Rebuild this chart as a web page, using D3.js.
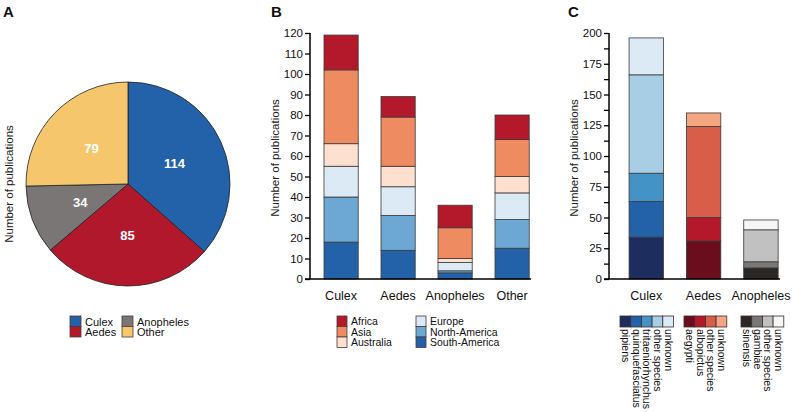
<!DOCTYPE html>
<html>
<head>
<meta charset="utf-8">
<script src="https://cdn.jsdelivr.net/npm/d3@7/dist/d3.min.js"></script>
<style>
  html, body { margin: 0; padding: 0; background: #fff; }
  svg { display: block; font-family: "Liberation Sans", Arial, sans-serif; }
</style>
</head>
<body>
<svg id="chart" width="793" height="413"></svg>
<script>
// ---------- Data ----------
// Panel A
const genera = ["Culex", "Aedes", "Anopheles", "Other"];
const genusCounts = [114, 85, 34, 79];
const genusColors = ["#2361a8", "#b2182b", "#7a7675", "#f5c66b"];

// Panel B
const regionCategories = ["Culex", "Aedes", "Anopheles", "Other"];
const regions = ["South-America", "North-America", "Europe", "Australia", "Asia", "Africa"];
const southAmerica = [18, 14, 3, 15];
const northAmerica = [22, 17, 1, 14];
const europe = [15, 14, 4, 13];
const australia = [11, 10, 2, 8];
const asia = [36, 24, 15, 18];
const africa = [17, 10, 11, 12];
const regionColors = ["#2361a8", "#6da8d4", "#dceaf5", "#fde0d0", "#ee8b61", "#b3192b"];
const bTicks = [0, 10, 20, 30, 40, 50, 60, 70, 80, 90, 100, 110, 120];

// Panel C
const speciesGenera = ["Culex", "Aedes", "Anopheles"];
const culexSpecies = ["pipiens", "quinquefasciatus", "tritaeniorhynchus", "other species", "unknown"];
const culexValues = [34, 29, 23, 80, 30];
const culexColors = ["#1c2d5e", "#2361a8", "#4393c6", "#a7cee5", "#dceaf6"];
const aedesSpecies = ["aegypti", "albopictus", "other species", "unknown"];
const aedesValues = [31, 19, 74, 11];
const aedesColors = ["#6a0e1e", "#b3192b", "#d85e4a", "#f4a683"];
const anophelesSpecies = ["sinensis", "gambiae", "other species", "unknown"];
const anophelesValues = [9, 5, 26, 8];
const anophelesColors = ["#2b2724", "#7a7877", "#c1c1c1", "#f6f6f6"];
const cTicks = [0, 12.5, 25, 37.5, 50, 62.5, 75, 87.5, 100, 112.5, 125, 137.5, 150, 162.5, 175, 187.5, 200];

const yTitle = "Number of publications";

// ---------- Drawing ----------
const svg = d3.select("#chart");
const FONT = "Liberation Sans, Arial, sans-serif";
const segStroke = "#3a3a3a";

function panelLetter(x, t) {
  svg.append("text").attr("x", x).attr("y", 17).attr("font-size", 15)
    .attr("font-weight", "bold").attr("fill", "#111").text(t);
}
panelLetter(3, "A");
panelLetter(271, "B");
panelLetter(568, "C");

// ===== Panel A: pie =====
(function () {
  const cx = 128, cy = 184, r = 102;
  const g = svg.append("g").attr("transform", `translate(${cx},${cy})`);
  const pie = d3.pie().sort(null).value(d => d.v);
  const data = genera.map((n, i) => ({ n, v: genusCounts[i], c: genusColors[i] }));
  const arcs = pie(data);
  const arc = d3.arc().innerRadius(0).outerRadius(r);
  g.selectAll("path").data(arcs).join("path")
    .attr("d", arc).attr("fill", d => d.data.c)
    .attr("stroke", "#222").attr("stroke-width", 0.8);
  g.selectAll("text").data(arcs).join("text")
    .attr("transform", d => `translate(${arc.centroid(d)})`)
    .attr("text-anchor", "middle").attr("dy", "0.36em")
    .attr("font-size", 13).attr("font-weight", "bold").attr("fill", "#fff")
    .text(d => d.data.v);

  svg.append("text").attr("transform", `translate(13,${cy}) rotate(-90)`)
    .attr("text-anchor", "middle").attr("font-size", 11.5).attr("fill", "#222")
    .text(yTitle);

  // legend
  const lg = svg.append("g");
  const pos = [[70, 316], [70, 326.5], [122, 316], [122, 326.5]];
  data.forEach((d, i) => {
    const [x, y] = pos[i];
    lg.append("rect").attr("x", x).attr("y", y).attr("width", 11).attr("height", 10.5)
      .attr("fill", d.c).attr("stroke", "#4a3b3b").attr("stroke-width", 0.8);
    lg.append("text").attr("x", x + 15).attr("y", y + 9.5).attr("font-size", 11)
      .attr("fill", "#111").text(d.n);
  });
})();

// ===== Panel B: stacked bars =====
(function () {
  const series = [southAmerica, northAmerica, europe, australia, asia, africa];
  const rows = regionCategories.map((c, i) => {
    const o = { cat: c };
    regions.forEach((r, k) => o[r] = series[k][i]);
    return o;
  });
  const stack = d3.stack().keys(regions)(rows);
  const x = d3.scaleBand().domain(regionCategories).range([312.6, 540.6])
    .paddingInner(0.4).paddingOuter(0.2);
  const y = d3.scaleLinear().domain([0, 120]).range([279, 33]);
  const color = d3.scaleOrdinal().domain(regions).range(regionColors);

  const g = svg.append("g");
  stack.forEach(layer => {
    g.append("g").selectAll("rect").data(layer).join("rect")
      .attr("x", d => x(d.data.cat)).attr("width", x.bandwidth())
      .attr("y", d => y(d[1])).attr("height", d => y(d[0]) - y(d[1]))
      .attr("fill", color(layer.key)).attr("stroke", segStroke).attr("stroke-width", 0.8);
  });

  const ax = svg.append("g").attr("transform", "translate(310,0)")
    .call(d3.axisLeft(y).tickValues(bTicks).tickSize(5).tickPadding(2));
  ax.select(".domain").remove();
  ax.selectAll(".tick line").attr("stroke", "#000").attr("stroke-width", 1.3);
  ax.selectAll(".tick text").attr("font-size", 11.5).attr("font-family", FONT).attr("fill", "#111");
  svg.append("line").attr("x1", 310).attr("x2", 310).attr("y1", y(120)).attr("y2", y(0))
    .attr("stroke", "#000").attr("stroke-width", 1.5);
  svg.append("line").attr("x1", 305).attr("x2", 531).attr("y1", y(0)).attr("y2", y(0))
    .attr("stroke", "#000").attr("stroke-width", 1.5);

  svg.append("g").selectAll("text").data(regionCategories).join("text")
    .attr("x", d => x(d) + x.bandwidth() / 2).attr("y", 300)
    .attr("text-anchor", "middle").attr("font-size", 12.5).attr("fill", "#111").text(d => d);

  svg.append("text").attr("transform", `translate(279,158) rotate(-90)`)
    .attr("text-anchor", "middle").attr("font-size", 11.5).attr("fill", "#222").text(yTitle);

  // legend
  const leg = [["Africa", 5], ["Asia", 4], ["Australia", 3], ["Europe", 2], ["North-America", 1], ["South-America", 0]];
  leg.forEach(([name, k], i) => {
    const col = Math.floor(i / 3), row = i % 3;
    const lx = col === 0 ? 337 : 416, ly = 316 + row * 10.5;
    svg.append("rect").attr("x", lx).attr("y", ly).attr("width", 10).attr("height", 10.5)
      .attr("fill", regionColors[k]).attr("stroke", "#4a3b3b").attr("stroke-width", 0.8);
    svg.append("text").attr("x", lx + 14).attr("y", ly + 9).attr("font-size", 10.5)
      .attr("fill", "#111").text(name);
  });
})();

// ===== Panel C: species stacked bars =====
(function () {
  const groups = [
    { cat: "Culex", names: culexSpecies, vals: culexValues, cols: culexColors, lx: 620 },
    { cat: "Aedes", names: aedesSpecies, vals: aedesValues, cols: aedesColors, lx: 684 },
    { cat: "Anopheles", names: anophelesSpecies, vals: anophelesValues, cols: anophelesColors, lx: 741 }
  ];
  const x = d3.scaleBand().domain(speciesGenera).range([617.6, 789.6])
    .paddingInner(0.4).paddingOuter(0.2);
  const y = d3.scaleLinear().domain([0, 200]).range([279, 33]);

  const g = svg.append("g");
  groups.forEach(gr => {
    let acc = 0;
    const segs = gr.vals.map((v, i) => { const s = { y0: acc, y1: acc + v, c: gr.cols[i] }; acc += v; return s; });
    g.append("g").selectAll("rect").data(segs).join("rect")
      .attr("x", x(gr.cat)).attr("width", x.bandwidth())
      .attr("y", d => y(d.y1)).attr("height", d => y(d.y0) - y(d.y1))
      .attr("fill", d => d.c).attr("stroke", segStroke).attr("stroke-width", 0.8);
  });

  const ax = svg.append("g").attr("transform", "translate(609,0)")
    .call(d3.axisLeft(y).tickValues(cTicks).tickSize(5).tickPadding(2)
      .tickFormat(d => (d % 25 === 0 ? d : "")));
  ax.select(".domain").remove();
  ax.selectAll(".tick line").attr("stroke", "#000").attr("stroke-width", 1.3);
  ax.selectAll(".tick text").attr("font-size", 11.5).attr("font-family", FONT).attr("fill", "#111");
  svg.append("line").attr("x1", 609).attr("x2", 609).attr("y1", y(200)).attr("y2", y(0))
    .attr("stroke", "#000").attr("stroke-width", 1.5);
  svg.append("line").attr("x1", 604).attr("x2", 780).attr("y1", y(0)).attr("y2", y(0))
    .attr("stroke", "#000").attr("stroke-width", 1.5);

  svg.append("g").selectAll("text").data(speciesGenera).join("text")
    .attr("x", d => x(d) + x.bandwidth() / 2).attr("y", 300)
    .attr("text-anchor", "middle").attr("font-size", 12.5).attr("fill", "#111").text(d => d);

  svg.append("text").attr("transform", `translate(578,158) rotate(-90)`)
    .attr("text-anchor", "middle").attr("font-size", 11.5).attr("fill", "#222").text(yTitle);

  // legends: swatch rows with rotated labels
  groups.forEach(gr => {
    const w = 10.7;
    gr.names.forEach((n, i) => {
      const sx = gr.lx + i * w;
      svg.append("rect").attr("x", sx).attr("y", 316).attr("width", w).attr("height", 11)
        .attr("fill", gr.cols[i]).attr("stroke", "#3a2e2e").attr("stroke-width", 0.8);
      svg.append("text").attr("transform", `translate(${sx + w / 2 - 3.5},329) rotate(90)`)
        .attr("font-size", 10.5).attr("fill", "#111").text(n);
    });
  });
})();
</script>
</body>
</html>
